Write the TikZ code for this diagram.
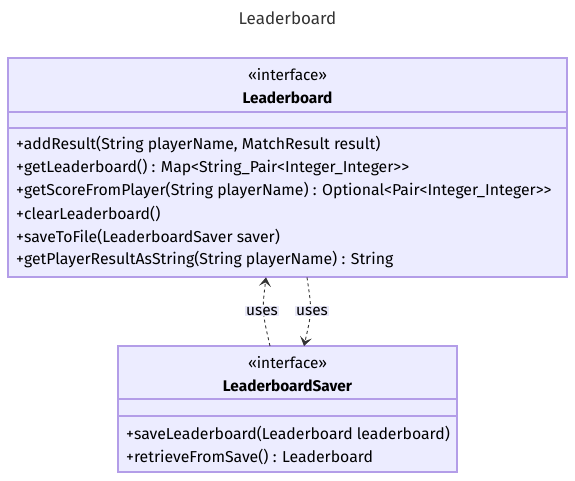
\documentclass[tikz,border=0pt]{standalone}
\usepackage{fontspec}
\setmainfont{Fira Sans}
\usetikzlibrary{arrows.meta}
\definecolor{boxfill}{HTML}{ECECFF}
\definecolor{boxline}{HTML}{B39DE8}
\definecolor{txt}{HTML}{333333}
\definecolor{lblbg}{HTML}{E8E8F8}
\tikzset{
  classbox/.style={draw=boxline,fill=boxfill,line width=1.6pt},
  divider/.style={draw=boxline,line width=1.6pt},
  member/.style={anchor=west,inner sep=0pt,text=black,font=\fontsize{15.8}{17}\selectfont},
  stereo/.style={anchor=center,inner sep=0pt,text=black,font=\fontsize{15.4}{17}\selectfont},
  cname/.style={anchor=center,inner sep=0pt,text=black,font=\fontsize{15.4}{17}\selectfont\bfseries},
  dep/.style={draw=txt,line width=0.9pt,dash pattern=on 3pt off 3pt,-{Stealth[length=9pt,width=12pt,inset=4pt]}},
  elabel/.style={fill=lblbg,inner sep=1pt,text=black,font=\fontsize{15.4}{17}\selectfont},
}
\begin{document}
\begin{tikzpicture}[x=1pt,y=-1pt]
\useasboundingbox (0,0) rectangle (575,481);
\node[anchor=center,inner sep=0pt,text=txt,font=\fontsize{17}{19}\selectfont] (title) at (287.5,18) {Leaderboard};
% Leaderboard box
\path[classbox] (8,58) rectangle (567,277);
\node[inner sep=0pt,minimum width=559pt,minimum height=219pt,anchor=north west] (lb) at (8,58) {};
\draw[divider] (8,112) -- (567,112);
\draw[divider] (8,128) -- (567,128);
\node[stereo] (lbst) at (287.5,75) {«interface»};
\node[cname] (lbname) at (287.5,98) {Leaderboard};
\node[member] (m1) at (16,145) {+addResult(String playerName, MatchResult result)};
\node[member] (m2) at (16,168) {+getLeaderboard() : Map<String\_Pair<Integer\_Integer>{}>};
\node[member] (m3) at (16,191) {+getScoreFromPlayer(String playerName) : Optional<Pair<Integer\_Integer>{}>};
\node[member] (m4) at (16,214) {+clearLeaderboard()};
\node[member] (m5) at (16,237) {+saveToFile(LeaderboardSaver saver)};
\node[member] (m6) at (16,260) {+getPlayerResultAsString(String playerName) : String};
% LeaderboardSaver box
\path[classbox] (118,346) rectangle (457,472);
\node[inner sep=0pt,minimum width=339pt,minimum height=126pt,anchor=north west] (ls) at (118,346) {};
\draw[divider] (118,399) -- (457,399);
\draw[divider] (118,416) -- (457,416);
\node[stereo] (lsst) at (287.5,363) {«interface»};
\node[cname] (lsname) at (287.5,386) {LeaderboardSaver};
\node[member] (s1) at (126,434) {+saveLeaderboard(Leaderboard leaderboard)};
\node[member] (s2) at (126,457) {+retrieveFromSave() : Leaderboard};
% connectors
\coordinate (a1) at (ls.north -| 270,0);
\coordinate (a2) at (lb.south -| 266,0);
\coordinate (b1) at (lb.south -| 307,0);
\coordinate (b2) at (ls.north -| 304,0);
\draw[dep] (a1) .. controls (262,311) .. (a2);
\draw[dep] (b1) .. controls (312,311) .. (b2);
\node[elabel] (u1) at (262,311) {uses};
\node[elabel] (u2) at (312,311) {uses};
\end{tikzpicture}
\end{document}
